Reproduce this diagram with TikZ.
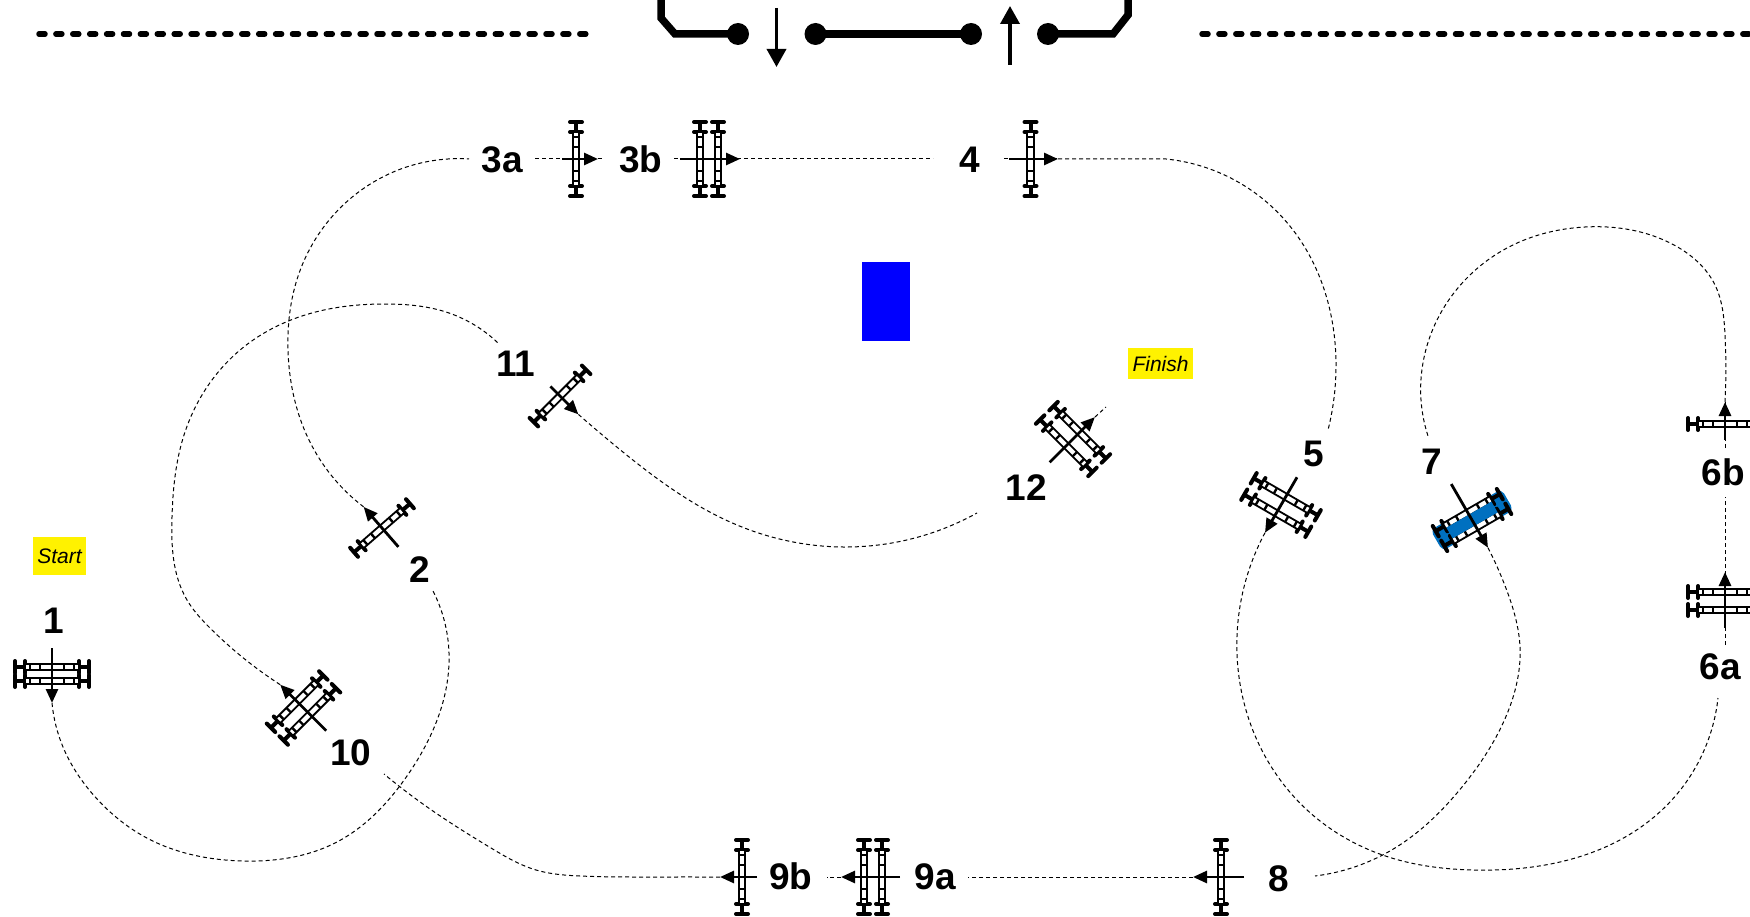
\documentclass[tikz,border=0pt]{standalone}
\usepackage{fontspec}
\setmainfont{Liberation Sans}
\usetikzlibrary{arrows.meta,hobby}
\definecolor{bodyblue}{RGB}{0,112,192}
\tikzset{
  road/.style={line width=5.5pt,line cap=round,dash pattern=on 6pt off 10.9pt},
  barrier/.style={line width=7.5pt,line join=miter},
  bigarrow/.style={line width=3.6pt,-{Triangle[length=18pt,width=19pt]}},
  pathline/.style={line width=1pt,dash pattern=on 4pt off 3pt,use Hobby shortcut},
  travel/.style={line width=2.8pt,-{Triangle[length=14pt,width=12pt]}},
  crossbar/.style={line width=4pt,line cap=round},
  railbox/.style={draw=black,line width=1.8pt,fill=white},
  numlab/.style={inner sep=0pt,text height=26.5pt,text depth=0pt,font=\fontsize{37}{37}\selectfont\bfseries},
  tag/.style={fill=yellow,inner sep=0pt,font=\fontsize{21}{21}\selectfont\itshape}
}
\newcommand{\onerail}[1]{%
  \draw[line width=4pt] (#1,-37) -- (#1,-27) (#1,27) -- (#1,37);
  \foreach \yy in {-37,-27,27,37}{\draw[crossbar] (#1-6,\yy) -- (#1+6,\yy);}
  \draw[railbox] (#1-3.2,-27) rectangle (#1+3.2,27);
  \foreach \yy in {-22,-12,12,22}{\fill (#1-2.6,\yy-1.2) rectangle (#1+2.6,\yy+1.2);}
  \fill[gray!60] (#1-2.4,-1) rectangle (#1+2.4,1);
}
\newcommand{\trkextra}{}
% name, x, y, heading, axle spacing, arrow tail, arrow tip
\newcommand{\trk}[7]{%
  \begin{scope}[shift={(#2,#3)},rotate=#4]
    \ifnum#5=0 \onerail{0}\else \onerail{-#5/2}\onerail{#5/2}\fi
    \trkextra
    \coordinate (#1tail) at (#6,0);
    \coordinate (#1tip) at (#7,0);
    \draw[travel] (#1tail) -- (#1tip);
  \end{scope}}
\begin{document}
\begin{tikzpicture}[x=1pt,y=-1pt]
\path[use as bounding box] (0,0) rectangle (1750,917);
\clip (0,0) rectangle (1750,917);
% road edges
\coordinate (roadA) at (39,34); \coordinate (roadB) at (586,34);
\coordinate (roadC) at (1202,34); \coordinate (roadD) at (1760,34);
\draw[road] (roadA) -- (roadB);
\draw[road] (roadC) -- (roadD);
% barrier
\node[circle,fill=black,minimum size=22pt,inner sep=0pt] (d1) at (738,34) {};
\node[circle,fill=black,minimum size=22pt,inner sep=0pt] (d2) at (815.5,34) {};
\node[circle,fill=black,minimum size=22pt,inner sep=0pt] (d3) at (971,34) {};
\node[circle,fill=black,minimum size=22pt,inner sep=0pt] (d4) at (1048,34) {};
\coordinate (bl) at (661,-10); \coordinate (br) at (1128,-10);
\draw[barrier] (bl) -- (661,18) -- (675,34) -- (d1.center);
\draw[barrier] (d2.center) -- (d3.center);
\draw[barrier] (d4.center) -- (1113,34) -- (1128,15) -- (br);
\coordinate (dnA) at (776.5,8); \coordinate (dnB) at (776.5,67);
\coordinate (upA) at (1010,65); \coordinate (upB) at (1010,6);
\draw[bigarrow] (dnA) -- (dnB);
\draw[bigarrow] (upA) -- (upB);
% pillar
\node[fill=blue,minimum width=48pt,minimum height=79pt,inner sep=0pt] (pillar) at (886,301.5) {};
% tracks: blue body of 7 first
\begin{scope}[shift={(1472,520)},rotate=-60]
  \fill[bodyblue,rounded corners=5pt] (-12,-41) rectangle (12,41);
\end{scope}
\trk{a}{52}{674}{-90}{14}{-26}{29}
\trk{b}{382}{528}{131}{0}{-25}{28}
\trk{c}{576}{159}{0}{0}{-14}{22}
\trk{d}{709}{159}{0}{18}{-29}{31}
\trk{e}{1030.5}{159}{0}{0}{-21.5}{27.5}
\trk{f}{1281}{505}{-120}{19}{-32}{32}
\trk{g}{1725}{601}{90}{18}{-27}{29}
\trk{h}{1725}{424}{90}{0}{-16}{22}
\renewcommand{\trkextra}{\fill[bodyblue] (-6.2,-26) rectangle (6.2,26);}
\trk{i}{1472}{520}{-60}{17}{-41.5}{32}
\renewcommand{\trkextra}{}
\trk{j}{1221}{877}{180}{0}{-23}{28}
\trk{k}{873}{877}{180}{18}{-27}{32}
\trk{m}{742}{877}{180}{0}{-15}{22}
\trk{n}{303.5}{708}{135}{18}{-32}{33}
\trk{o}{560}{396}{-45}{0}{-13.5}{26}
\trk{p}{1073}{439}{45}{19}{-33}{31}
% dashed route
\coordinate (e2) at (433,591);
\coordinate (e3a) at (469,159);
\coordinate (s3a) at (535,159);
\coordinate (e3ar) at (604,159);
\coordinate (s3b) at (674,159);
\coordinate (e4) at (933,159);
\coordinate (s4) at (1004,159);
\coordinate (e5) at (1328,430);
\coordinate (e6a) at (1718,698);
\coordinate (s6a) at (1725,645);
\coordinate (e6b) at (1725,497);
\coordinate (s6b) at (1725,448);
\coordinate (e7) at (1428,436);
\coordinate (e8) at (1315,876);
\coordinate (e9a) at (968,877);
\coordinate (e9b) at (826.7,877);
\coordinate (e10) at (384,774);
\coordinate (e11) at (498,343);
\coordinate (e12) at (977,513);
\coordinate (e13) at (1106,407);
\draw[pathline] (atip) .. (63,747) .. (98,800) .. (145,837) .. (243,861) .. (335,843) .. (407,776) .. (449,653) .. (e2);
\draw[pathline] (btip) .. (312,446) .. (288,350) .. (301,268) .. (391,173) .. (e3a);
\draw[pathline] (s3a) -- (e3ar);
\draw[pathline] (s3b) -- (e4);
\draw[pathline] (s4) -- (etip);
\draw[pathline] (etip) -- (1166,159) .. (1283,218) .. (1336,368) .. (e5);
\draw[pathline] (ftip) .. (1237,636) .. (1306,809) .. (1395,859) .. (1473,870) .. (1663,809) .. (e6a);
\draw[pathline] (s6a) -- (e6b);
\draw[pathline] (s6b) -- (htip);
\draw[pathline] (htip) .. (1725,335) .. (1715,285) .. (1674,245) .. (1585,227) .. (1507,248) .. (1421,379) .. (e7);
\draw[pathline] (itip) .. (1507,591) .. (1520,647) .. (1507,714) .. (1462,787) .. (1395,848) .. (e8);
\draw[pathline] (jtip) -- (e9a);
\draw[pathline] (ktip) -- (e9b);
\draw[pathline] (mtip) .. (650,877) .. (580,876) .. (536,870) .. (491,848) .. (430,809) .. (e10);
\draw[pathline] (ntip) .. (210,628) .. (187,600) .. (172,517) .. (184,435) .. (245,346) .. (324,310) .. (385,304) .. (446,312) .. (e11);
\draw[pathline] (otip) .. (618,448) .. (737,525) .. (848,547) .. (e12);
\draw[pathline] (ptip) -- (e13);
% labels
\node[numlab] (l1) at (54,620) {1};
\node[numlab] (l2) at (420,569) {2};
\node[numlab] (l3a) at (502.5,159) {3a};
\node[numlab] (l3b) at (640.7,159) {3b};
\node[numlab] (l4) at (970,159) {4};
\node[numlab] (l5) at (1314,453) {5};
\node[numlab] (l6a) at (1720,666) {6a};
\node[numlab] (l6b) at (1723,472) {6b};
\node[numlab] (l7) at (1432,461) {7};
\node[numlab] (l8) at (1279,878) {8};
\node[numlab] (l9a) at (935,876) {9a};
\node[numlab] (l9b) at (791,876) {9b};
\node[numlab] (l10) at (351,752) {10};
\node[numlab] (l11) at (516,363) {11};
\node[numlab] (l12) at (1026,487) {12};
\node[tag,minimum width=53pt,minimum height=38pt] (start) at (59.5,556) {Start};
\node[tag,minimum width=65pt,minimum height=31pt] (finish) at (1160.5,363.5) {Finish};
\end{tikzpicture}
\end{document}
